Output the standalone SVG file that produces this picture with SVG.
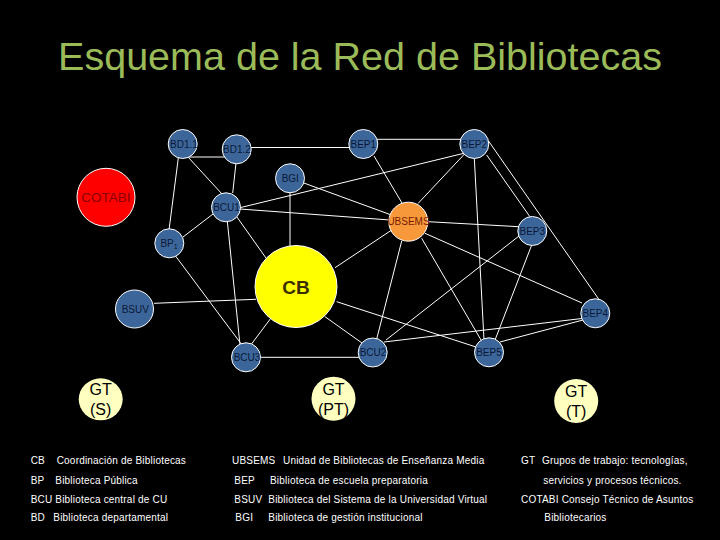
<svg xmlns="http://www.w3.org/2000/svg" width="720" height="540" viewBox="0 0 720 540">
<style>
.bg{fill:#000}
.title{font-family:"Liberation Sans",Arial,sans-serif;font-size:39.5px;fill:#9bbb59;text-anchor:middle}
.edge{stroke:#fff;stroke-width:1;fill:none}
.blue{fill:#3c6699;stroke:#fff;stroke-width:1}
.lbl{font-family:"Liberation Sans",Arial,sans-serif;font-size:10px;fill:#0a1838;text-anchor:middle}
.cb{fill:#ffff00;stroke:#fff;stroke-width:1}
.cblbl{font-family:"Liberation Sans",Arial,sans-serif;font-size:19px;font-weight:bold;fill:#3a2e00;text-anchor:middle}
.ub{fill:#f7993a;stroke:#fff;stroke-width:1}
.ublbl{font-family:"Liberation Sans",Arial,sans-serif;font-size:10px;fill:#7a1a00;text-anchor:middle}
.cot{fill:#ff0000;stroke:#fff;stroke-width:1}
.cotlbl{font-family:"Liberation Sans",Arial,sans-serif;font-size:13.5px;fill:#8b0000;text-anchor:middle}
.gt{fill:#ffffc0}
.gtlbl{font-family:"Liberation Sans",Arial,sans-serif;font-size:16px;fill:#000;text-anchor:middle}
.leg{font-family:"Liberation Sans",Arial,sans-serif;font-size:10px;fill:#fff;letter-spacing:0.2px}
</style>
<rect class="bg" x="0" y="0" width="720" height="540"/>
<text class="title" x="360" y="70">Esquema de la Red de Bibliotecas</text>

<g id="connectors">
<line class="edge" x1="186" y1="157" x2="232" y2="157"/>
<line class="edge" x1="178.3" y1="158" x2="169" y2="230"/>
<line class="edge" x1="188" y1="157" x2="222" y2="194"/>
<line class="edge" x1="236" y1="163" x2="232.7" y2="193"/>
<line class="edge" x1="250" y1="147.5" x2="350" y2="147.5"/>
<line class="edge" x1="376" y1="139.3" x2="461" y2="139.3"/>
<line class="edge" x1="374" y1="156" x2="402" y2="203"/>
<line class="edge" x1="240" y1="207.7" x2="463" y2="153.5"/>
<line class="edge" x1="303" y1="182.7" x2="390" y2="214.5"/>
<line class="edge" x1="240" y1="209" x2="390" y2="220"/>
<line class="edge" x1="290" y1="191" x2="290" y2="247"/>
<line class="edge" x1="213" y1="214" x2="183" y2="237"/>
<line class="edge" x1="236.7" y1="216.7" x2="266" y2="258"/>
<line class="edge" x1="227.3" y1="221" x2="240" y2="345"/>
<line class="edge" x1="173.3" y1="253" x2="242" y2="345"/>
<line class="edge" x1="154" y1="303.3" x2="256" y2="299.3"/>
<line class="edge" x1="271" y1="318" x2="250" y2="346"/>
<line class="edge" x1="260" y1="357.3" x2="359" y2="357.3"/>
<line class="edge" x1="325" y1="316.7" x2="362" y2="343"/>
<line class="edge" x1="335" y1="267.7" x2="394" y2="228.5"/>
<line class="edge" x1="336.7" y1="301.7" x2="476" y2="347"/>
<line class="edge" x1="376.7" y1="339" x2="401.7" y2="241"/>
<line class="edge" x1="386" y1="340" x2="519" y2="236"/>
<line class="edge" x1="384" y1="342" x2="582" y2="318.5"/>
<line class="edge" x1="500" y1="342" x2="583" y2="320"/>
<line class="edge" x1="418" y1="203.5" x2="465" y2="153.5"/>
<line class="edge" x1="428" y1="221.7" x2="519" y2="226.7"/>
<line class="edge" x1="425" y1="233.3" x2="582" y2="303"/>
<line class="edge" x1="421.7" y1="238.3" x2="482" y2="341.7"/>
<line class="edge" x1="474.3" y1="158" x2="484" y2="340"/>
<line class="edge" x1="486.7" y1="155" x2="531" y2="218.3"/>
<line class="edge" x1="488.3" y1="140.7" x2="599.3" y2="300"/>
<line class="edge" x1="531.7" y1="245" x2="495" y2="340"/>
</g>

<g id="BD1_1"><circle class="blue" cx="182.7" cy="144" r="14.5"/><text class="lbl" x="184" y="147.5">BD1.1</text></g>
<g id="BD1_2"><circle class="blue" cx="236.7" cy="149.3" r="14.5"/><text class="lbl" x="237" y="152.8">BD1.2</text></g>
<g id="BEP1"><circle class="blue" cx="363.3" cy="144" r="14.5"/><text class="lbl" x="363.3" y="147.5">BEP1</text></g>
<g id="BEP2"><circle class="blue" cx="474.3" cy="144" r="14.5"/><text class="lbl" x="474.3" y="147.5">BEP2</text></g>
<g id="BGI"><circle class="blue" cx="290" cy="178.3" r="14.5"/><text class="lbl" x="290.3" y="181.8">BGI</text></g>
<g id="BCU1"><circle class="blue" cx="226" cy="207.3" r="14.5"/><text class="lbl" x="226.5" y="210.8">BCU1</text></g>
<g id="BP1"><circle class="blue" cx="169.3" cy="243.3" r="14.5"/><text class="lbl" x="169" y="246.5">BP<tspan font-size="7" dy="2.5">1</tspan></text></g>
<g id="BEP3"><circle class="blue" cx="532.3" cy="231" r="14.5"/><text class="lbl" x="532.3" y="234.5">BEP3</text></g>
<g id="BSUV"><circle class="blue" cx="134.5" cy="309" r="19"/><text class="lbl" x="135.3" y="312.5">BSUV</text></g>
<g id="BEP4"><circle class="blue" cx="595.3" cy="313.3" r="14.5"/><text class="lbl" x="595.3" y="316.8">BEP4</text></g>
<g id="BCU3"><circle class="blue" cx="246" cy="357.3" r="14.5"/><text class="lbl" x="247" y="360.8">BCU3</text></g>
<g id="BCU2"><circle class="blue" cx="372.7" cy="352.5" r="14.5"/><text class="lbl" x="373" y="356">BCU2</text></g>
<g id="BEP5"><circle class="blue" cx="489" cy="352.3" r="14.5"/><text class="lbl" x="489" y="355.8">BEP5</text></g>
<g id="UBSEMS"><circle class="ub" cx="408.3" cy="221.7" r="19.5"/><text class="ublbl" x="408.5" y="225.2">UBSEMS</text></g>
<g id="CB"><circle class="cb" cx="296" cy="286.5" r="41"/><text class="cblbl" x="296" y="294">CB</text></g>
<g id="COTABI"><circle class="cot" cx="106" cy="197.3" r="29"/><text class="cotlbl" x="106" y="202">COTABI</text></g>

<g id="GT_S"><ellipse class="gt" cx="100.7" cy="399.3" rx="22" ry="21"/><text class="gtlbl" x="100.7" y="395">GT</text><text class="gtlbl" x="100.7" y="415">(S)</text></g>
<g id="GT_PT"><ellipse class="gt" cx="333.5" cy="398.7" rx="22" ry="22"/><text class="gtlbl" x="333.5" y="394.5">GT</text><text class="gtlbl" x="333.5" y="414.5">(PT)</text></g>
<g id="GT_T"><ellipse class="gt" cx="576.2" cy="401" rx="22" ry="22"/><text class="gtlbl" x="576.2" y="397">GT</text><text class="gtlbl" x="576.2" y="417">(T)</text></g>

<g id="legend">
<text class="leg" x="30.7" y="464.3">CB</text><text class="leg" x="56.7" y="464.3">Coordinación  de Bibliotecas</text>
<text class="leg" x="30.7" y="483.6">BP</text><text class="leg" x="55.3" y="483.6">Biblioteca Pública</text>
<text class="leg" x="30.7" y="502.6">BCU</text><text class="leg" x="55.3" y="502.6">Biblioteca central de CU</text>
<text class="leg" x="30.7" y="521.3">BD</text><text class="leg" x="53.3" y="521.3">Biblioteca departamental</text>

<text class="leg" x="232" y="464.3">UBSEMS</text><text class="leg" x="283" y="464.3">Unidad de Bibliotecas de Enseñanza Media</text>
<text class="leg" x="234.3" y="483.6">BEP</text><text class="leg" x="270" y="483.6">Biblioteca de escuela preparatoria</text>
<text class="leg" x="234.3" y="502.6">BSUV</text><text class="leg" x="268.3" y="502.6">Biblioteca del Sistema de la Universidad Virtual</text>
<text class="leg" x="235.3" y="521.3">BGI</text><text class="leg" x="268.3" y="521.3">Biblioteca de gestión institucional</text>

<text class="leg" x="521" y="464.3">GT</text><text class="leg" x="542" y="464.3">Grupos de trabajo: tecnologías,</text>
<text class="leg" x="543.3" y="483.6">servicios y procesos técnicos.</text>
<text class="leg" x="521" y="502.6">COTABI Consejo Técnico de Asuntos</text>
<text class="leg" x="544.3" y="521.3">Bibliotecarios</text>
</g>
</svg>
